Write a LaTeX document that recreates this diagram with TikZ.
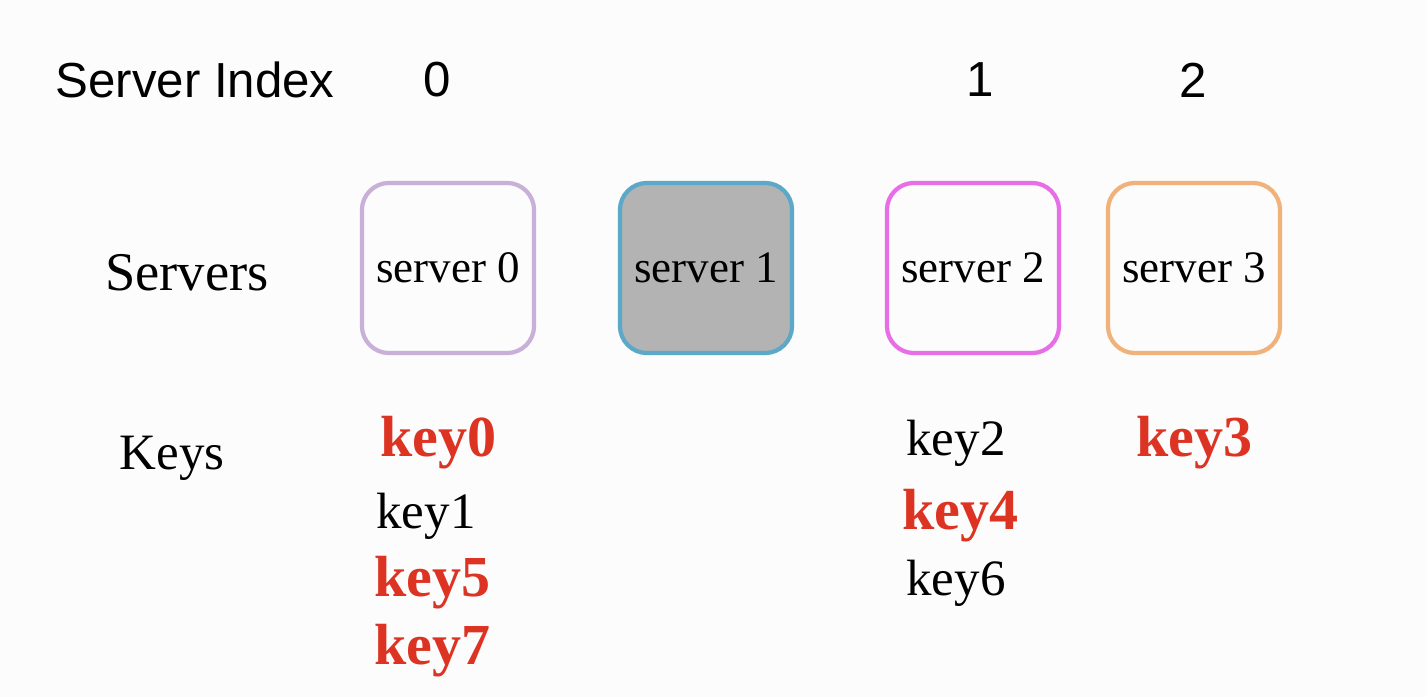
\documentclass[tikz,border=0pt]{standalone}
\usepackage{fontspec}
\setmainfont{Liberation Serif}
\setsansfont{Liberation Sans}
\begin{document}
\begin{tikzpicture}[x=0.01cm,y=-0.01cm,
 srv/.style={draw,line width=1.2pt,rounded corners=0.27cm,minimum width=1.72cm,minimum height=1.7cm,font=\fontsize{12.8}{14}\selectfont},
 key/.style={font=\fontsize{14.5}{16}\selectfont,anchor=west},
 red/.style={key,text=keyred,font=\fontsize{16.5}{18}\selectfont\bfseries}]
\definecolor{keyred}{HTML}{DD3322}
\fill[fill={rgb,255:red,252;green,252;blue,252}] (0,0) rectangle (1426,697);
\useasboundingbox (0,0) rectangle (1426,697);
\node[font=\sffamily\fontsize{14}{16}\selectfont] (si) at (195,80) {Server Index};
\node[font=\sffamily\fontsize{14}{16}\selectfont] (i0) at (437,80) {0};
\node[font=\sffamily\fontsize{14}{16}\selectfont] (i1) at (980,80) {1};
\node[font=\sffamily\fontsize{14}{16}\selectfont] (i2) at (1193,80) {2};
\node[font=\fontsize{15.5}{17}\selectfont] (sv) at (187,273) {Servers};
\node[font=\fontsize{14.5}{16}\selectfont] (ky) at (172,458) {Keys};
\node[srv,draw={rgb,255:red,200;green,176;blue,216}] (s0) at (448,268) {server 0};
\node[srv,draw={rgb,255:red,91;green,168;blue,200},fill={rgb,255:red,179;green,179;blue,179}] (s1) at (706,268) {server 1};
\node[srv,draw={rgb,255:red,232;green,110;blue,232}] (s2) at (973,268) {server 2};
\node[srv,draw={rgb,255:red,240;green,178;blue,122}] (s3) at (1194,268) {server 3};
\node[red] (k0) at (368,443) {key0};
\node[key] (k1) at (364,516) {key1};
\node[red] (k5) at (362,583) {key5};
\node[red] (k7) at (362,651) {key7};
\node[key] (k2) at (894,443) {key2};
\node[red] (k4) at (890,516) {key4};
\node[key] (k6) at (894,583) {key6};
\node[red] (k3) at (1124,443) {key3};
\end{tikzpicture}
\end{document}
